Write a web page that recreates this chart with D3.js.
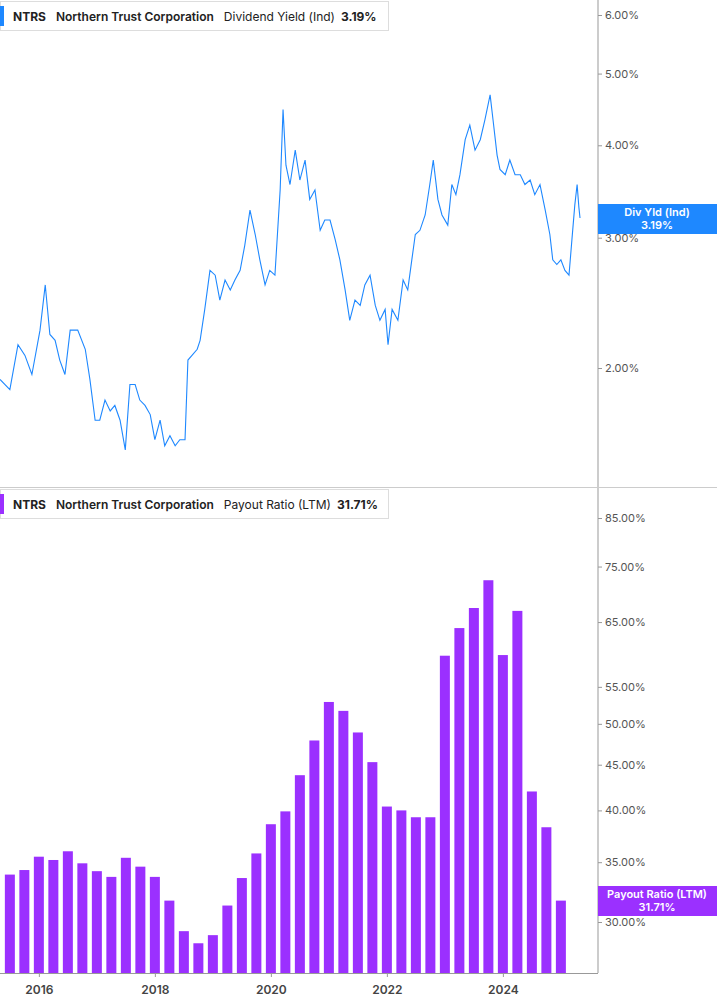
<!DOCTYPE html><html><head><meta charset="utf-8">
<script src="https://cdn.jsdelivr.net/npm/d3@7"></script>
<style>body{margin:0;background:#fff;font-family:Inter,"Open Sans",sans-serif}</style></head><body>
<svg id="c" width="717" height="1005"></svg>
<script>
const yieldDates=[2015.33,2015.50,2015.64,2015.76,2015.88,2016.02,2016.11,2016.19,2016.28,2016.36,2016.45,2016.54,2016.67,2016.80,2016.88,2016.97,2017.05,2017.14,2017.23,2017.31,2017.40,2017.49,2017.57,2017.66,2017.74,2017.83,2017.92,2018.00,2018.09,2018.17,2018.26,2018.35,2018.43,2018.52,2018.57,2018.64,2018.73,2018.78,2018.86,2018.95,2019.04,2019.12,2019.21,2019.30,2019.38,2019.47,2019.55,2019.64,2019.73,2019.81,2019.90,2019.98,2020.07,2020.16,2020.21,2020.26,2020.33,2020.42,2020.50,2020.59,2020.67,2020.76,2020.85,2020.93,2021.02,2021.11,2021.19,2021.28,2021.36,2021.45,2021.54,2021.62,2021.71,2021.80,2021.88,2021.97,2022.02,2022.09,2022.19,2022.28,2022.36,2022.43,2022.49,2022.57,2022.66,2022.74,2022.80,2022.88,2022.95,2023.05,2023.12,2023.19,2023.26,2023.35,2023.43,2023.52,2023.61,2023.69,2023.78,2023.83,2023.90,2023.95,2024.04,2024.12,2024.21,2024.30,2024.38,2024.47,2024.55,2024.64,2024.73,2024.81,2024.86,2024.93,2025.00,2025.07,2025.14,2025.19,2025.24,2025.28,2025.31,2025.33];
const yieldValues=[1.93,1.87,2.15,2.08,1.96,2.25,2.59,2.22,2.18,2.05,1.96,2.25,2.25,2.12,1.93,1.70,1.70,1.81,1.75,1.78,1.70,1.55,1.90,1.90,1.81,1.78,1.73,1.60,1.70,1.57,1.62,1.57,1.60,1.60,2.05,2.08,2.12,2.18,2.40,2.71,2.67,2.47,2.63,2.55,2.63,2.71,2.93,3.27,3.03,2.80,2.59,2.71,2.67,3.48,4.47,3.76,3.54,3.94,3.59,3.82,3.38,3.48,3.07,3.17,3.17,2.98,2.80,2.55,2.32,2.47,2.43,2.59,2.67,2.43,2.32,2.40,2.15,2.40,2.32,2.63,2.55,2.80,3.03,3.07,3.22,3.54,3.82,3.38,3.22,3.12,3.54,3.43,3.65,4.07,4.26,3.94,4.07,4.33,4.68,4.33,3.88,3.71,3.65,3.82,3.65,3.65,3.54,3.59,3.43,3.54,3.27,3.03,2.80,2.76,2.80,2.71,2.67,2.98,3.32,3.54,3.30,3.19];
const payoutQuarters=[2015.5,2015.75,2016,2016.25,2016.5,2016.75,2017,2017.25,2017.5,2017.75,2018,2018.25,2018.5,2018.75,2019,2019.25,2019.5,2019.75,2020,2020.25,2020.5,2020.75,2021,2021.25,2021.5,2021.75,2022,2022.25,2022.5,2022.75,2023,2023.25,2023.5,2023.75,2024,2024.25,2024.5,2024.75,2025];
const payoutValues=[33.9,34.3,35.5,35.2,36.0,34.9,34.2,33.7,35.4,34.6,33.7,31.7,29.3,28.4,29.0,31.3,33.6,35.8,38.6,39.9,43.8,47.9,52.9,51.7,48.9,45.3,40.4,40.0,39.3,39.3,59.6,64.0,67.4,72.4,59.7,66.9,42.0,38.3,31.7];
const yieldTicks=[2,3,4,5,6];
const payoutTicks=[30,35,40,45,50,55,65,75,85];
const yearTicks=[2016,2018,2020,2022,2024];

const svg=d3.select("#c");
const AX=598, BLUE="#1e88ff", PURP="#9b30ff";
const x=d3.scaleLinear().domain([2015.33,2025.64]).range([0,AX]);
const y1=d3.scaleLog().domain([2,6]).range([368,15]);
const y2=d3.scaleLog().domain([30,85]).range([922,518]);

svg.append("line").attr("x1",AX).attr("x2",AX).attr("y1",0).attr("y2",973).attr("stroke","#999");
svg.append("line").attr("x1",0).attr("x2",717).attr("y1",487.5).attr("y2",487.5).attr("stroke","#ccc");
svg.append("line").attr("x1",0).attr("x2",AX).attr("y1",973.5).attr("y2",973.5).attr("stroke","#999");

const a1=svg.append("g").attr("transform",`translate(${AX},0)`).call(d3.axisRight(y1).tickValues(yieldTicks).tickSize(4).tickFormat(d=>d.toFixed(2)+"%"));
const a2=svg.append("g").attr("transform",`translate(${AX},0)`).call(d3.axisRight(y2).tickValues(payoutTicks).tickSize(4).tickFormat(d=>d.toFixed(2)+"%"));
const ax=svg.append("g").attr("transform","translate(0,973)").call(d3.axisBottom(x).tickValues(yearTicks).tickSize(4).tickFormat(d3.format("d")));
[a1,a2,ax].forEach(g=>{g.select(".domain").remove();g.selectAll("line").attr("stroke","#999");g.selectAll("text").attr("fill","#555").style("font-size","11px").style("font-family","Inter,sans-serif");});
ax.selectAll("text").attr("dy","1.2em").style("font-size","12px").style("font-weight","600").attr("fill","#444");

svg.append("path").datum(yieldDates.map((d,i)=>[d,yieldValues[i]]))
 .attr("d",d3.line().x(d=>x(d[0])).y(d=>y1(d[1]))).attr("fill","none").attr("stroke",BLUE).attr("stroke-width",1.1);
svg.append("g").selectAll("rect").data(payoutValues).join("rect")
 .attr("x",(d,i)=>x(payoutQuarters[i])-5).attr("width",10)
 .attr("y",d=>y2(d)).attr("height",d=>973-y2(d)).attr("fill",PURP);

function header(yTop,color,metric,val,w){
 const g=svg.append("g");
 g.append("rect").attr("x",0.5).attr("y",yTop+0.5).attr("width",w).attr("height",29).attr("fill","#fff").attr("stroke","#ddd");
 g.append("rect").attr("x",0).attr("y",yTop+5).attr("width",4).attr("height",20).attr("fill",color);
 const t=g.append("text").attr("x",13).attr("y",yTop+20).style("font-size","12px").attr("fill","#222").style("font-family","Inter,sans-serif");
 t.append("tspan").text("NTRS").style("font-weight","700");
 t.append("tspan").attr("dx",10).text("Northern Trust Corporation").style("font-weight","600");
 t.append("tspan").attr("dx",10).text(metric);
 t.append("tspan").attr("dx",6).text(val).style("font-weight","700");
}
header(1,BLUE,"Dividend Yield (Ind)","3.19%",388);
header(489,PURP,"Payout Ratio (LTM)","31.71%",388);

function tag(yc,color,l1,l2){
 svg.append("rect").attr("x",AX).attr("y",yc-15).attr("width",717-AX).attr("height",30).attr("fill",color);
 svg.append("text").attr("x",AX+59).attr("y",yc-3).attr("text-anchor","middle").attr("fill","#fff").style("font-size","11px").style("font-weight","600").text(l1);
 svg.append("text").attr("x",AX+59).attr("y",yc+10).attr("text-anchor","middle").attr("fill","#fff").style("font-size","11px").style("font-weight","600").text(l2);
}
tag(219,BLUE,"Div Yld (Ind)","3.19%");
tag(901,PURP,"Payout Ratio (LTM)","31.71%");
</script></body></html>
